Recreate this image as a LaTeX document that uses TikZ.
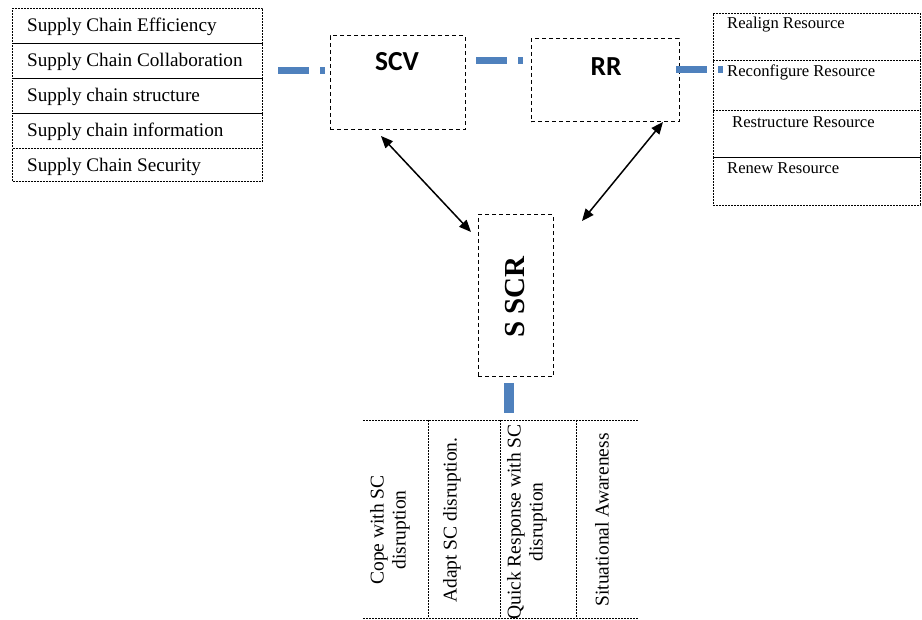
\documentclass[tikz,border=0pt]{standalone}
\usepackage{fontspec}
\setmainfont{Liberation Serif}
\newfontfamily\carlito{Carlito}
\usetikzlibrary{arrows.meta}
\begin{document}
\begin{tikzpicture}[x=1pt,y=-1pt,
  tabcell/.style={draw, line width=0.8pt, dash pattern=on 2pt off 1pt, inner sep=0pt},
  lefttxt/.style={anchor=west, font=\fontsize{19.2}{21}\selectfont, inner sep=0pt},
  righttxt/.style={anchor=west, font=\fontsize{16.6}{18}\selectfont, inner sep=0pt},
  bigbox/.style={draw, line width=1pt, dash pattern=on 4pt off 3pt, inner sep=0pt},
  boxlabel/.style={font=\carlito\bfseries\fontsize{27.5}{29}\selectfont, inner sep=0pt},
  linkline/.style={draw=linkblue, line width=7pt, dash pattern=on 31pt off 11pt on 5pt off 100pt},
  dblarrow/.style={line width=1.5pt, {Triangle[length=12pt,width=10pt]}-{Triangle[length=12pt,width=10pt]}},
  bottxt/.style={rotate=90, align=center, font=\fontsize{19.5}{22}\selectfont, inner sep=0pt}
]
\definecolor{linkblue}{HTML}{4F81BD}
\useasboundingbox (0,0) rectangle (922,620);

% left table
\node[tabcell, minimum width=250pt, minimum height=35pt] (l1) at (137.5,25.5) {};
\node[tabcell, minimum width=250pt, minimum height=35pt] (l2) at (137.5,60.5) {};
\node[tabcell, minimum width=250pt, minimum height=35pt] (l3) at (137.5,95.5) {};
\node[tabcell, minimum width=250pt, minimum height=35pt] (l4) at (137.5,130.5) {};
\node[tabcell, minimum width=250pt, minimum height=33pt] (l5) at (137.5,164.5) {};
\node[lefttxt] (t1) at (27,27) {Supply Chain Efficiency};
\node[lefttxt] (t2) at (27,62) {Supply Chain Collaboration};
\node[lefttxt] (t3) at (27,97) {Supply chain structure};
\node[lefttxt] (t4) at (27,132) {Supply chain information};
\node[lefttxt] (t5) at (27,167) {Supply Chain Security};

% right table
\node[tabcell, minimum width=207pt, minimum height=47pt] (r1) at (816.5,36.5) {};
\node[tabcell, minimum width=207pt, minimum height=50pt] (r2) at (816.5,85) {};
\node[tabcell, minimum width=207pt, minimum height=47pt] (r3) at (816.5,133.5) {};
\node[tabcell, minimum width=207pt, minimum height=48pt] (r4) at (816.5,181) {};
\node[righttxt] (u1) at (727,25) {Realign Resource};
\node[righttxt] (u2) at (727,72) {Reconfigure Resource};
\node[righttxt] (u3) at (732,122) {Restructure Resource};
\node[righttxt] (u4) at (727,168) {Renew Resource};

% main boxes
\node[bigbox, minimum width=135pt, minimum height=94pt] (scv) at (397.5,83) {};
\node[boxlabel] (scvl) at (397,62) {SCV};
\node[bigbox, minimum width=148pt, minimum height=83pt] (rr) at (605,80.5) {};
\node[boxlabel] (rrl) at (606,67) {RR};
\node[bigbox, minimum width=75pt, minimum height=162pt] (sscr) at (515.5,296) {};
\node[rotate=90, font=\bfseries\fontsize{29}{31}\selectfont, inner sep=0pt] (sscrl) at (515,297) {S SCR};

% blue links
\coordinate (k1a) at (278,71); \coordinate (k1b) at (330,71);
\coordinate (k2a) at (476,61); \coordinate (k2b) at (530,61);
\coordinate (k3a) at (676,70); \coordinate (k3b) at (726,70);
\draw[linkline] (k1a) -- (k1b);
\draw[linkline] (k2a) -- (k2b);
\draw[linkline] (k3a) -- (k3b);
\coordinate (k4a) at (509,383); \coordinate (k4b) at (509,413);
\draw[draw=linkblue, line width=10pt] (k4a) -- (k4b);

% arrows
\coordinate (a1a) at (381,136); \coordinate (a1b) at (471,232);
\coordinate (a2a) at (663,122); \coordinate (a2b) at (582,221);
\draw[dblarrow] (a1a) -- (a1b);
\draw[dblarrow] (a2a) -- (a2b);

% bottom table
\coordinate (b1) at (363,420); \coordinate (b2) at (638,420);
\coordinate (b3) at (363,618); \coordinate (b4) at (638,618);
\draw[tabcell] (b1) -- (b2);
\draw[tabcell] (b3) -- (b4);
\coordinate (v1a) at (428,420); \coordinate (v1b) at (428,618);
\coordinate (v2a) at (500,420); \coordinate (v2b) at (500,618);
\coordinate (v3a) at (576,420); \coordinate (v3b) at (576,618);
\draw[tabcell] (v1a) -- (v1b);
\draw[tabcell] (v2a) -- (v2b);
\draw[tabcell] (v3a) -- (v3b);
\node[bottxt] (c1) at (390,530) {Cope with SC\\disruption};
\node[bottxt] (c2) at (452,520) {Adapt SC disruption.};
\node[bottxt] (c3) at (527,522) {Quick Response with SC\\disruption};
\node[bottxt] (c4) at (602,520) {Situational Awareness};
\end{tikzpicture}
\end{document}
